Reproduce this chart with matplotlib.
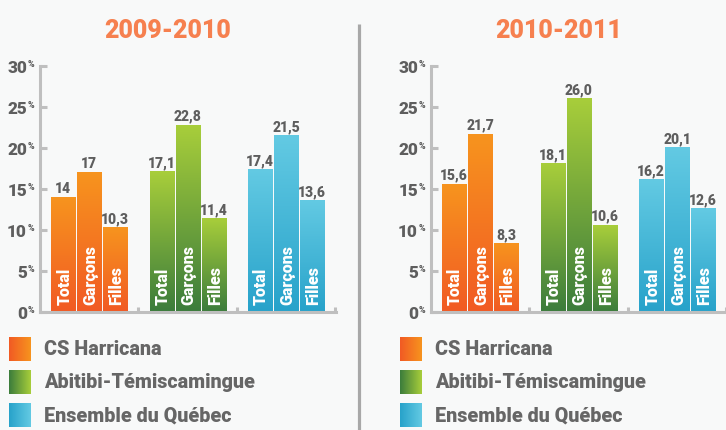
import numpy as np
import matplotlib
matplotlib.use("Agg")
import matplotlib.pyplot as plt
from matplotlib.colors import LinearSegmentedColormap

# ---------------- data ----------------
years = ["2009-2010", "2010-2011"]
regions = ["CS Harricana", "Abitibi-Témiscamingue", "Ensemble du Québec"]
bar_labels = ["Total", "Garçons", "Filles"]
vals_2009 = [[14, 17, 10.3], [17.1, 22.8, 11.4], [17.4, 21.5, 13.6]]
vals_2010 = [[15.6, 21.7, 8.3], [18.1, 26.0, 10.6], [16.2, 20.1, 12.6]]
txt_2009 = [["14", "17", "10,3"], ["17,1", "22,8", "11,4"], ["17,4", "21,5", "13,6"]]
txt_2010 = [["15,6", "21,7", "8,3"], ["18,1", "26,0", "10,6"], ["16,2", "20,1", "12,6"]]
yticks = [0, 5, 10, 15, 20, 25, 30]

# ---------------- style ----------------
FONT = "Roboto"
WT = "heavy"
BG = "#F8F9F9"
AXC = "#BFBFBF"
TXT = "#5E5E5E"
TITLE_C = "#F6804F"
grads = [("#F15A24", "#F7941E"), ("#3B7C3C", "#A8CE3A"), ("#27A2CA", "#63CAE3")]
cmaps = [LinearSegmentedColormap.from_list(f"g{i}", c) for i, c in enumerate(grads)]

W, H = 726, 431
fig = plt.figure(figsize=(W / 100, H / 100), dpi=100, facecolor=BG)

# overlay for legend / separator (pixel coordinates)
ov = fig.add_axes([0, 0, 1, 1], zorder=0)
ov.set_xlim(0, W)
ov.set_ylim(H, 0)
ov.axis("off")
ov.plot([358.5, 358.5], [25, H], color="#A8A8A8", lw=2.3, solid_capstyle="butt")

axis_x = [40, 431]
base_y, top_y = 313, 67
axw = 296
grad = np.linspace(0, 1, 256).reshape(-1, 1)
hgrad = np.linspace(0, 1, 256).reshape(1, -1)

for p, (year, vals, txts) in enumerate(zip(years, [vals_2009, vals_2010], [txt_2009, txt_2010])):
    x0 = axis_x[p]
    ax = fig.add_axes([x0 / W, (H - base_y) / H, axw / W, (base_y - top_y) / H], zorder=1)
    ax.set_facecolor("none")
    for g in range(3):
        for i in range(3):
            v = vals[g][i]
            left = 11 + 98.5 * g + 26 * i
            w = 24.5
            ax.imshow(grad, extent=(left, left + w, 0, v), origin="lower",
                      cmap=cmaps[g], aspect="auto", interpolation="bicubic", zorder=2)
            ax.text(left + w / 2 + 1, 0.95, bar_labels[i], rotation=90, ha="center", va="bottom",
                    color="white", fontsize=11.5, fontweight=WT, family=FONT, zorder=3)
            ax.annotate(txts[g][i], (left + w / 2, v), xytext=(0, 3.8), textcoords="offset points",
                        ha="center", va="baseline", color=TXT, fontsize=10, fontweight=WT,
                        family=FONT, zorder=3)
    ax.set_xlim(0, axw)
    ax.set_ylim(0, 30)
    for s in ["top", "right"]:
        ax.spines[s].set_visible(False)
    for s in ["left", "bottom"]:
        ax.spines[s].set_color(AXC)
        ax.spines[s].set_linewidth(2.2)
    ax.set_yticks(yticks)
    ax.set_yticklabels([])
    ax.tick_params(axis="y", direction="in", length=5.2, width=2.2, color=AXC, pad=0)
    ax.set_xticks([98, 197, 295])
    ax.set_xticklabels([])
    ax.tick_params(axis="x", direction="in", length=3.8, width=2.2, color=AXC)
    for t in yticks:
        ax.text(-13, t - 0.72, str(t), ha="right", va="baseline", color=TXT, fontsize=12.3,
                fontweight=WT, family=FONT, clip_on=False)
        ax.text(-12.5, t - 0.05, "%", ha="left", va="baseline", color=TXT, fontsize=6.5,
                fontweight=WT, family=FONT, clip_on=False)
    # title
    ov.text(x0 + 127.5, 31, year, ha="center", va="center", color=TITLE_C, fontsize=18,
            fontweight=WT, family=FONT)
    # legend
    for k, name in enumerate(regions):
        ytop = 338 + 33 * k
        ov.imshow(hgrad, extent=(x0 - 31, x0 - 9, ytop + 24, ytop), cmap=cmaps[k],
                  aspect="auto", interpolation="bicubic")
        ov.text(x0 + 4, ytop + 12, name, ha="left", va="center", color="#666666",
                fontsize=14.2, fontweight=WT, family=FONT)

ov.set_xlim(0, W)
ov.set_ylim(H, 0)
fig.savefig("out.png", dpi=100, facecolor=BG)
